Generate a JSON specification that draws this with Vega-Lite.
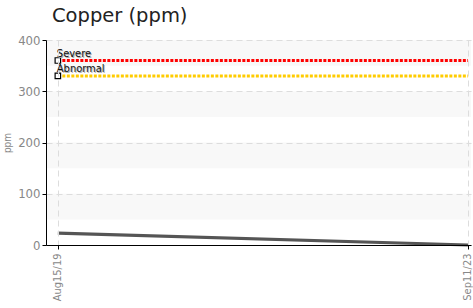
{
  "$schema": "https://vega.github.io/schema/vega-lite/v6.json",
  "width": 425,
  "height": 205,
  "autosize": {"type": "none"},
  "padding": {"left": 46, "top": 40, "right": 2, "bottom": 63},
  "background": "white",
  "title": {
    "text": "Copper (ppm)",
    "anchor": "start",
    "frame": "group",
    "font": "DejaVu Sans",
    "fontSize": 19.5,
    "fontWeight": "normal",
    "color": "#222222",
    "dx": 6,
    "offset": 8
  },
  "config": {
    "view": {"stroke": null},
    "axis": {
      "labelFont": "DejaVu Sans Condensed",
      "titleFont": "DejaVu Sans Condensed",
      "labelColor": "#888888",
      "titleColor": "#888888",
      "domainColor": "#000000",
      "tickColor": "#000000",
      "gridColor": "#dddddd",
      "gridDash": [6, 4]
    }
  },
  "datasets": {
    "bands": [
      {"lo": 50, "hi": 100},
      {"lo": 150, "hi": 200},
      {"lo": 250, "hi": 300},
      {"lo": 350, "hi": 400}
    ],
    "series": [
      {"date": "2019-08-15", "ppm": 23},
      {"date": "2023-09-11", "ppm": 0}
    ],
    "limits": [
      {"level": "Severe", "value": 360, "start": "2019-08-15", "end": "2023-09-11"},
      {"level": "Abnormal", "value": 330, "start": "2019-08-15", "end": "2023-09-11"}
    ]
  },
  "layer": [
    {
      "data": {"name": "bands"},
      "mark": {"type": "rect", "color": "#f8f8f8"},
      "encoding": {
        "y": {"field": "lo", "type": "quantitative", "scale": {"domain": [0, 400]}},
        "y2": {"field": "hi"}
      }
    },
    {
      "data": {"name": "series"},
      "mark": {"type": "line", "color": "#555555", "strokeWidth": 3.2},
      "encoding": {
        "x": {
          "field": "date",
          "type": "temporal",
          "scale": {
            "type": "utc",
            "domain": [
              {"year": 2019, "month": 7, "date": 3, "utc": true},
              {"year": 2023, "month": 9, "date": 22, "utc": true}
            ]
          },
          "axis": {
            "title": null,
            "zindex": 1,
            "values": [
              {"year": 2019, "month": 8, "date": 15, "utc": true},
              {"year": 2023, "month": 9, "date": 11, "utc": true}
            ],
            "labelExpr": "utcFormat(datum.value, '%b%d/%y')",
            "labelAngle": -90,
            "labelFontSize": 11,
            "labelPadding": 4,
            "tickSize": 4,
            "grid": true
          }
        },
        "y": {
          "field": "ppm",
          "type": "quantitative",
          "scale": {"domain": [0, 400]},
          "axis": {
            "title": "ppm",
            "zindex": 1,
            "titleFontSize": 10,
            "titleFontWeight": "normal",
            "titlePadding": 5,
            "values": [0, 50, 100, 150, 200, 250, 300, 350, 400],
            "labelFontSize": 13,
            "tickSize": 4,
            "grid": true
          }
        }
      }
    },
    {
      "data": {"name": "limits"},
      "mark": {"type": "rule", "strokeWidth": 3, "strokeDash": [3, 1.5]},
      "encoding": {
        "x": {"field": "start", "type": "temporal"},
        "x2": {"field": "end"},
        "y": {"field": "value", "type": "quantitative"},
        "color": {
          "field": "level",
          "type": "nominal",
          "scale": {"domain": ["Severe", "Abnormal"], "range": ["#ff0000", "#ffcc00"]},
          "legend": null
        }
      }
    },
    {
      "data": {"name": "limits"},
      "mark": {"type": "square", "size": 30, "fill": "white", "stroke": "#000000", "strokeWidth": 1.2, "opacity": 1},
      "encoding": {
        "x": {"field": "start", "type": "temporal"},
        "y": {"field": "value", "type": "quantitative"}
      }
    },
    {
      "data": {"name": "limits"},
      "mark": {"type": "text", "align": "left", "baseline": "alphabetic", "dx": 0, "dy": -3, "font": "DejaVu Sans Condensed", "fontSize": 11, "color": "#aaaaaa"},
      "encoding": {
        "x": {"field": "start", "type": "temporal"},
        "y": {"field": "value", "type": "quantitative"},
        "text": {"field": "level"}
      }
    },
    {
      "data": {"name": "limits"},
      "mark": {"type": "text", "align": "left", "baseline": "alphabetic", "dx": -1, "dy": -4, "font": "DejaVu Sans Condensed", "fontSize": 11, "color": "#111111"},
      "encoding": {
        "x": {"field": "start", "type": "temporal"},
        "y": {"field": "value", "type": "quantitative"},
        "text": {"field": "level"}
      }
    }
  ]
}
